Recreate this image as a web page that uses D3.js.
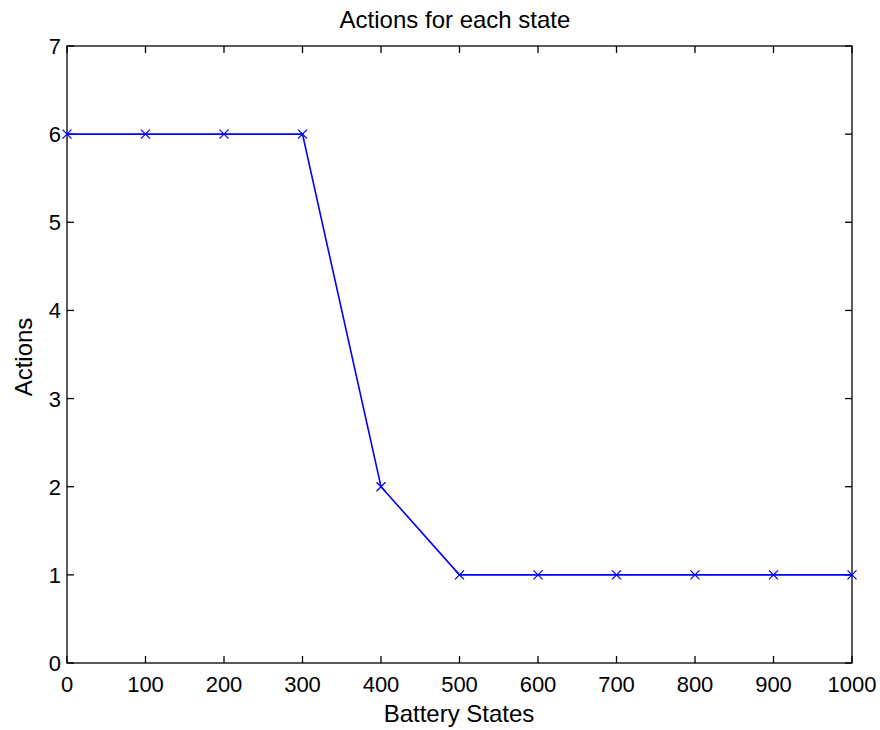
<!DOCTYPE html>
<html><head><meta charset="utf-8">
<script src="https://cdn.jsdelivr.net/npm/d3@7"></script>
<style>body{margin:0;background:#fff}svg{display:block}text{font-family:"Liberation Sans",Arial,sans-serif;fill:#000}</style>
</head><body>
<svg id="c" width="880" height="730"></svg>
<script>
const states = [0,100,200,300,400,500,600,700,800,900,1000];
const actions = [6,6,6,6,2,1,1,1,1,1,1];
const xTicks = [0,100,200,300,400,500,600,700,800,900,1000];
const yTicks = [0,1,2,3,4,5,6,7];

const svg = d3.select("#c");
const L=67,R=852,T=46,B=663;
const x = d3.scaleLinear().domain([0,1000]).range([L,R]);
const y = d3.scaleLinear().domain([0,7]).range([B,T]);
const tl=7;
const fs=22, lfs=24;
const g = svg.append("g").attr("stroke","#000").attr("stroke-width",1.3);
xTicks.forEach(t=>{
  g.append("line").attr("x1",x(t)).attr("x2",x(t)).attr("y1",B).attr("y2",B-tl);
  g.append("line").attr("x1",x(t)).attr("x2",x(t)).attr("y1",T).attr("y2",T+tl);
});
yTicks.forEach(t=>{
  g.append("line").attr("x1",L).attr("x2",L+tl).attr("y1",y(t)).attr("y2",y(t));
  g.append("line").attr("x1",R).attr("x2",R-tl).attr("y1",y(t)).attr("y2",y(t));
});
svg.append("rect").attr("x",L).attr("y",T).attr("width",R-L).attr("height",B-T)
  .attr("fill","none").attr("stroke","#000").attr("stroke-width",1.3);
xTicks.forEach(t=>{
  svg.append("text").attr("x",x(t)).attr("y",692).attr("text-anchor","middle")
    .attr("font-size",fs).text(t);
});
yTicks.forEach(t=>{
  svg.append("text").attr("x",L-6).attr("y",y(t)+8).attr("text-anchor","end")
    .attr("font-size",fs).text(t);
});
const line = d3.line().x((d,i)=>x(states[i])).y(d=>y(d));
svg.append("path").attr("d",line(actions)).attr("fill","none").attr("stroke","#0000ff").attr("stroke-width",1.6);
const m=4.5;
actions.forEach((d,i)=>{
  const cx=x(states[i]), cy=y(d);
  svg.append("path").attr("d",`M${cx-m},${cy-m}L${cx+m},${cy+m}M${cx-m},${cy+m}L${cx+m},${cy-m}`)
    .attr("stroke","#0000ff").attr("stroke-width",1.3);
});
svg.append("text").attr("x",455).attr("y",28).attr("text-anchor","middle").attr("font-size",lfs).text("Actions for each state");
svg.append("text").attr("x",459).attr("y",722).attr("text-anchor","middle").attr("font-size",lfs).text("Battery States");
svg.append("text").attr("transform",`translate(32,357) rotate(-90)`).attr("text-anchor","middle").attr("font-size",lfs).text("Actions");
</script>
</body></html>
